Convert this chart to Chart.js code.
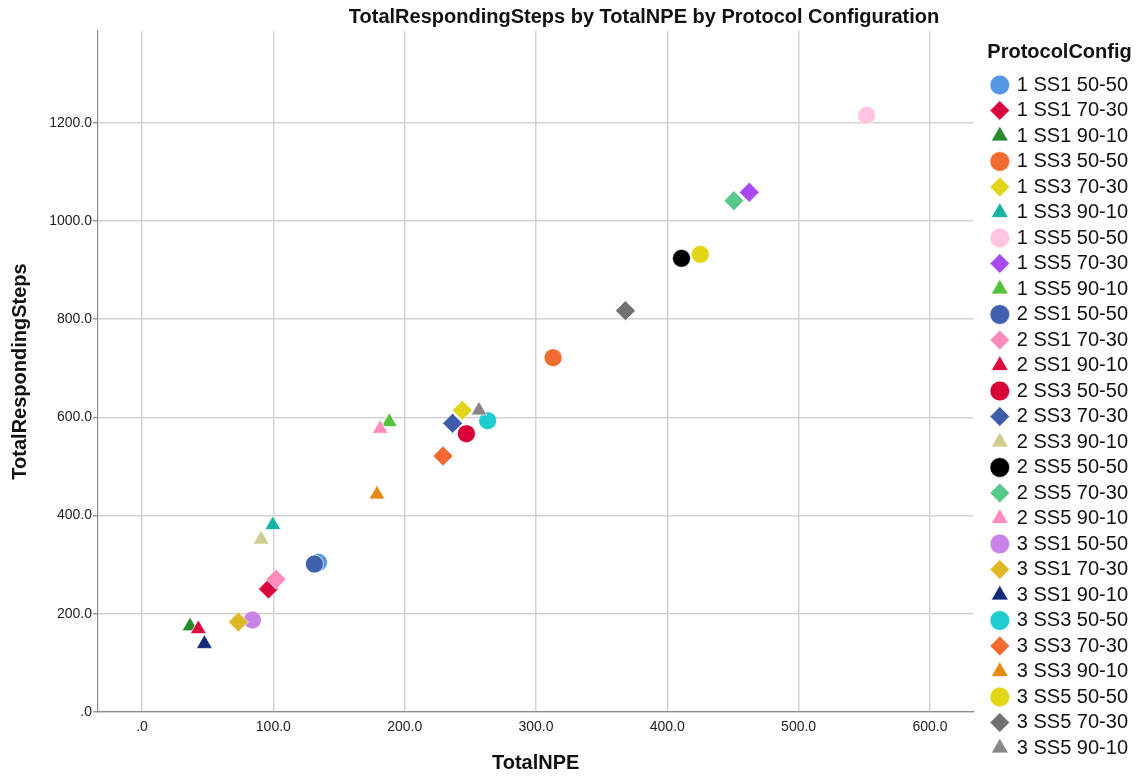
<!DOCTYPE html>
<html>
<head>
<meta charset="utf-8">
<title>TotalRespondingSteps by TotalNPE by Protocol Configuration</title>
<script src="https://cdn.jsdelivr.net/npm/chart.js@4.4.1/dist/chart.umd.min.js"></script>
<style>
    html, body { margin: 0; padding: 0; background: #fff; }
    #wrap { position: relative; width: 1138px; height: 776px; }
</style>
</head>
<body>
<div id="wrap"><canvas id="scatterChart"></canvas></div>
<script>
// Protocol configurations, in legend order
const configs = [
    '1 SS1 50-50', '1 SS1 70-30', '1 SS1 90-10',
    '1 SS3 50-50', '1 SS3 70-30', '1 SS3 90-10',
    '1 SS5 50-50', '1 SS5 70-30', '1 SS5 90-10',
    '2 SS1 50-50', '2 SS1 70-30', '2 SS1 90-10',
    '2 SS3 50-50', '2 SS3 70-30', '2 SS3 90-10',
    '2 SS5 50-50', '2 SS5 70-30', '2 SS5 90-10',
    '3 SS1 50-50', '3 SS1 70-30', '3 SS1 90-10',
    '3 SS3 50-50', '3 SS3 70-30', '3 SS3 90-10',
    '3 SS5 50-50', '3 SS5 70-30', '3 SS5 90-10'
];

// values, same order as configs
const totalNPE = [
    134.4, 96.3, 36.6,
    313.0, 243.9, 99.6,
    551.8, 462.4, 188.3,
    131.3, 102.1, 42.9,
    247.0, 236.5, 90.7,
    410.8, 450.7, 181.4,
    84.1, 73.4, 47.5,
    263.2, 229.2, 178.9,
    425.1, 368.1, 256.6
];
const totalSteps = [
    304.9, 250.5, 174.7,
    721.6, 614.5, 381.0,
    1215.3, 1058.4, 590.8,
    301.4, 270.3, 169.0,
    566.8, 588.0, 351.5,
    924.0, 1041.3, 577.0,
    187.4, 183.3, 138.9,
    593.3, 521.4, 443.2,
    932.2, 817.3, 614.3
];

const xTicks = [0, 100, 200, 300, 400, 500, 600];
const yTicks = [0, 200, 400, 600, 800, 1000, 1200];

const configColors = [
    '#5597e4', '#d9043d', '#268a2c',
    '#f26b2f', '#e2d518', '#16b3a2',
    '#ffc4e0', '#a94af0', '#56c23b',
    '#4060ad', '#ff8bbc', '#dc0c43',
    '#d80036', '#3f5cab', '#d1cc90',
    '#000000', '#58c98b', '#ff8bbe',
    '#c982e5', '#e0b824', '#13297a',
    '#1fcdd0', '#f26a2e', '#e88a14',
    '#e3d614', '#717171', '#888888'
];

const shapeByRatio = { '50-50': 'circle', '70-30': 'rectRot', '90-10': 'triangle' };
const radiusByShape = { circle: 9, rectRot: 10, triangle: 9.2 };

const FONT = '"Liberation Sans", Arial, sans-serif';
const chartTitle = 'TotalRespondingSteps by TotalNPE by Protocol Configuration';

const datasets = configs.map((name, i) => {
    const shape = shapeByRatio[name.slice(-5)];
    return {
        label: name,
        data: [{ x: totalNPE[i], y: totalSteps[i] }],
        pointStyle: shape,
        pointRadius: radiusByShape[shape],
        pointHoverRadius: radiusByShape[shape],
        backgroundColor: configColors[i],
        borderColor: 'rgba(255,255,255,0.7)',
        borderWidth: 1,
        order: -i // later configs sit on top, like SPSS
    };
});

const fmtTick = (v) => (v === 0 ? '.0' : v.toFixed(1));

// chart title drawn over the full frame, and a small gap before the legend
const spssFrame = {
    id: 'spssFrame',
    afterLayout(chart) {
        chart.legend.left += 14;
        chart.legend.right += 14;
    },
    afterDraw(chart) {
        const ctx = chart.ctx;
        ctx.save();
        ctx.font = 'bold 20px ' + FONT;
        ctx.fillStyle = '#111';
        ctx.textAlign = 'center';
        ctx.textBaseline = 'middle';
        ctx.fillText(chartTitle, 644, 17);
        ctx.restore();
    }
};

const scatterCtx = document.getElementById('scatterChart').getContext('2d');
let scatterChart = new Chart(scatterCtx, {
    type: 'scatter',
    data: { datasets: datasets },
    options: {
        responsive: true,
        maintainAspectRatio: false,
        animation: false,
        layout: { padding: { top: 31, right: 14, bottom: 0, left: 0 } },
        scales: {
            x: {
                type: 'linear',
                min: -33.5,
                max: 633,
                afterBuildTicks: (axis) => { axis.ticks = xTicks.map(v => ({ value: v })); },
                afterFit: (axis) => { axis.height = 64; },
                grid: { color: '#d2d2d2', lineWidth: 1.5, drawTicks: false },
                border: { color: '#8c8c8c', width: 1.2 },
                ticks: {
                    padding: 7,
                    color: '#222',
                    font: { family: FONT, size: 14 },
                    callback: fmtTick
                },
                title: {
                    display: true,
                    text: 'TotalNPE',
                    color: '#111',
                    font: { family: FONT, size: 20, weight: 'bold' },
                    padding: { top: 1, bottom: 1 }
                }
            },
            y: {
                type: 'linear',
                min: 0,
                max: 1387,
                afterBuildTicks: (axis) => { axis.ticks = yTicks.map(v => ({ value: v })); },
                afterFit: (axis) => { axis.width = 98; },
                grid: { color: '#d2d2d2', lineWidth: 1.5, tickLength: 5, tickColor: '#9a9a9a' },
                border: { color: '#8c8c8c', width: 1.2 },
                ticks: {
                    padding: 1,
                    color: '#222',
                    font: { family: FONT, size: 14 },
                    callback: fmtTick
                },
                title: {
                    display: true,
                    text: 'TotalRespondingSteps',
                    color: '#111',
                    font: { family: FONT, size: 20, weight: 'bold' },
                    padding: { top: 8, bottom: 0 }
                }
            }
        },
        plugins: {
            title: { display: false },
            tooltip: { enabled: false },
            legend: {
                position: 'right',
                align: 'start',
                title: {
                    display: true,
                    text: 'ProtocolConfig',
                    position: 'start',
                    color: '#111',
                    font: { family: FONT, size: 20, weight: 'bold' },
                    padding: { top: 11, bottom: 3.5 }
                },
                labels: {
                    usePointStyle: true,
                    boxWidth: 14,
                    boxHeight: 14,
                    padding: 5.5,
                    color: '#111',
                    font: { family: FONT, size: 20 },
                    sort: (a, b) => a.datasetIndex - b.datasetIndex
                }
            }
        }
    },
    plugins: [spssFrame]
});
</script>
</body>
</html>
